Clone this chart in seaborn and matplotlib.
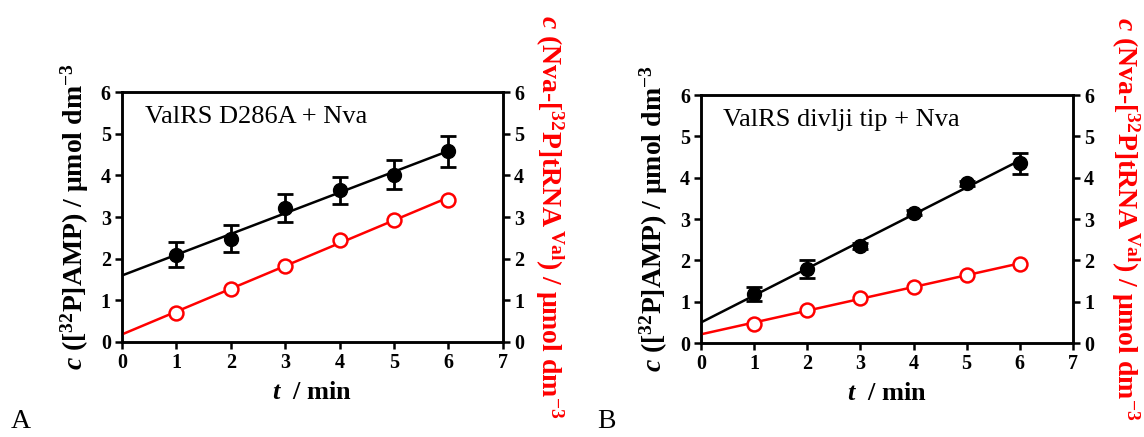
import numpy as np
import matplotlib

matplotlib.use('Agg')
import matplotlib.pyplot as plt
import seaborn as sns

# time points (min)
t = [1, 2, 3, 4, 5, 6]

# panel A: ValRS D286A + Nva
amp_a = [2.10, 2.48, 3.22, 3.64, 4.02, 4.58]
amp_a_err = [0.31, 0.32, 0.33, 0.32, 0.35, 0.37]
trna_a = [0.70, 1.28, 1.82, 2.45, 2.93, 3.42]

# panel B: ValRS divlji tip + Nva
amp_b = [1.18, 1.80, 2.35, 3.15, 3.87, 4.35]
amp_b_err = [0.17, 0.22, 0.07, 0.06, 0.06, 0.25]
trna_b = [0.46, 0.80, 1.10, 1.36, 1.65, 1.90]

titles = ["ValRS D286A + Nva", "ValRS divlji tip + Nva"]
letters = ["A", "B"]

sns.set_style("ticks")
plt.rcParams['font.family'] = ['Liberation Serif', 'DejaVu Serif']
plt.rcParams['mathtext.fontset'] = 'custom'
plt.rcParams['mathtext.rm'] = 'Liberation Serif:bold'
plt.rcParams['mathtext.bf'] = 'Liberation Serif:bold'
plt.rcParams['mathtext.it'] = 'Liberation Serif:italic:bold'
plt.rcParams['text.color'] = 'black'
plt.rcParams['axes.labelcolor'] = 'black'
plt.rcParams['xtick.color'] = 'black'
plt.rcParams['ytick.color'] = 'black'
plt.rcParams['axes.edgecolor'] = 'black'

left_lab = r'$\mathit{c}$ ([$^{32}$P]AMP) / μmol dm$^{-3}$'
right_lab = r'$\mathit{c}$ (Nva-[$^{32}$P]tRNA$\,^{\rm Val}$) / μmol dm$^{-3}$'

fig = plt.figure(figsize=(11.44, 4.37), dpi=100)
positions = [[0.1066, 0.2174, 0.333, 0.572], [0.6128, 0.2151, 0.325, 0.5675]]
panels = [(amp_a, amp_a_err, trna_a), (amp_b, amp_b_err, trna_b)]

for i, (amp, err, trna) in enumerate(panels):
    ax = fig.add_axes(positions[i])
    ax2 = ax.twinx()

    tt = np.array([0, 6])
    k1, b1 = np.polyfit(t, amp, 1)
    k2, b2 = np.polyfit(t, trna, 1)

    sns.lineplot(x=tt, y=k1 * tt + b1, ax=ax, color='black', lw=1.8)
    ax.errorbar(t, amp, yerr=err, fmt='o', color='black', ms=10,
                elinewidth=2, capsize=6, capthick=2, zorder=3)

    sns.lineplot(x=tt, y=k2 * tt + b2, ax=ax2, color='red', lw=1.8)
    ax2.plot(t, trna, 'o', ms=10, mfc='white', mec='red', mew=1.8)

    for a in (ax, ax2):
        a.set_ylim(0, 6)
        a.set_yticks(range(7))
        for s in a.spines.values():
            s.set_linewidth(1.8)
            s.set_visible(True)
        a.tick_params(width=1.8, length=5, labelsize=14.5, direction='out', pad=3)
        for lab in a.get_yticklabels():
            lab.set_fontweight('bold')
    ax.set_xlim(0, 7)
    ax.set_xticks(range(8))
    for lab in ax.get_xticklabels():
        lab.set_fontweight('bold')

    ax.set_xlabel(r'$\mathit{t}$  / min', fontsize=19, fontweight='bold', labelpad=6)
    ax.set_ylabel(left_lab, fontsize=20, fontweight='bold', labelpad=7)
    ax2.set_ylabel(right_lab, fontsize=20, fontweight='bold', color='red',
                   rotation=270, labelpad=30 if i == 0 else 34)
    ax.text(0.06, 0.90, titles[i], transform=ax.transAxes, fontsize=19,
            va='center', ha='left')
    fig.text(0.009 if i == 0 else 0.522, 0.02, letters[i], fontsize=20)

fig.savefig('out.png', dpi=100)
